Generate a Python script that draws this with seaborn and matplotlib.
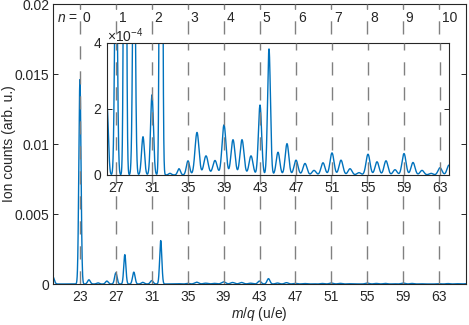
import numpy as np
import pandas as pd
import matplotlib
matplotlib.use('Agg')
import matplotlib.pyplot as plt
import matplotlib.transforms as mtransforms
import seaborn as sns

# peak list (m/q in u/e, ion counts in arb. u.)
peak_mz = [20, 23, 24, 25, 26, 27, 28, 29, 30, 31, 32, 33, 34, 35, 36, 37, 38, 39,
           40, 41, 42, 43, 44, 45, 46, 47, 48, 49, 50, 51, 52, 53, 54, 55, 56, 57,
           58, 59, 60, 61, 62, 63, 64, 65, 66]
peak_height = [5.0e-4, 1.46e-2, 3.0e-4, 0.8e-4, 2.1e-4, 8.0e-4, 2.1e-3, 8.5e-4, 1.16e-4,
               2.43e-4, 3.1e-3, 0.05e-4, 0.19e-4, 0.43e-4, 1.29e-4, 0.58e-4, 0.44e-4,
               1.52e-4, 1.07e-4, 1.07e-4, 0.58e-4, 2.12e-4, 3.82e-4, 0.69e-4, 0.95e-4,
               0.45e-4, 0.35e-4, 0.14e-4, 0.37e-4, 0.67e-4, 0.45e-4, 0.19e-4, 0.07e-4,
               0.63e-4, 0.40e-4, 0.43e-4, 0.16e-4, 0.65e-4, 0.38e-4, 0.14e-4, 0.05e-4,
               0.22e-4, 0.30e-4, 0.20e-4, 0.20e-4]
peak_width = [0.15, 0.12, 0.15, 0.15, 0.15, 0.14, 0.12, 0.14, 0.16, 0.16, 0.12, 0.16,
              0.16, 0.18, 0.22, 0.24, 0.24, 0.22, 0.22, 0.22, 0.22, 0.18, 0.16, 0.2,
              0.2, 0.22, 0.22, 0.22, 0.22, 0.22, 0.22, 0.22, 0.22, 0.22, 0.22, 0.22,
              0.22, 0.22, 0.22, 0.22, 0.22, 0.22, 0.22, 0.22, 0.22]

n_values = list(range(11))
n_mz = [23 + 4 * n for n in n_values]
xticks = [23, 27, 31, 35, 39, 43, 47, 51, 55, 59, 63]
inset_xticks = [27, 31, 35, 39, 43, 47, 51, 55, 59, 63]
yticks = [0, 0.005, 0.01, 0.015, 0.02]
ytick_labels = ['0', '0.005', '0.01', '0.015', '0.02']
inset_yticks = [0, 2e-4, 4e-4]
inset_ytick_labels = ['0', '2', '4']

# spectrum built from the peak list
mz = np.linspace(20, 66, 4601)
counts = np.zeros_like(mz)
for c, h, w in zip(peak_mz, peak_height, peak_width):
    counts += h * np.exp(-(mz - c) ** 2 / (2 * w ** 2))
df = pd.DataFrame({'mz': mz, 'counts': counts})

sns.set_style('ticks')
plt.rcParams['font.family'] = ['Liberation Sans', 'DejaVu Sans']
plt.rcParams['mathtext.fontset'] = 'custom'
plt.rcParams['mathtext.rm'] = 'Liberation Sans'
plt.rcParams['mathtext.it'] = 'Liberation Sans:italic'
plt.rcParams['font.size'] = 10

blue = '#0072BD'
axcol = '#262626'
dashcol = '#808080'
fs = 10

W, H = 469, 325
fig = plt.figure(figsize=(W / 100, H / 100), dpi=100)
ax = fig.add_axes([53 / W, 1 - 284 / H, 413 / W, 280 / H])
ins = fig.add_axes([107 / W, 1 - 175 / H, 342 / W, 132 / H])


def style_axes(a):
    for s in a.spines.values():
        s.set_visible(True)
        s.set_color(axcol)
        s.set_linewidth(0.8)
    a.tick_params(direction='in', top=True, right=True, length=3.5, width=0.7,
                  colors=axcol, labelcolor=axcol, labelsize=fs, pad=4)
    a.set_facecolor('white')


# main axes
sns.lineplot(data=df, x='mz', y='counts', ax=ax, color=blue, lw=1.0, zorder=2)
for x in n_mz:
    ax.axvline(x, color=dashcol, lw=1.0, dashes=(9.5, 8.5), zorder=3)
ax.set_xlim(20, 66)
ax.set_ylim(0, 0.02)
ax.set_xticks(xticks)
ax.set_yticks(yticks)
ax.set_yticklabels(ytick_labels)
style_axes(ax)
ax.tick_params(axis='y', pad=2.5)
ax.set_xlabel('$m/q$ (u/e)', fontsize=fs, color=axcol)
ax.set_ylabel('Ion counts (arb. u.)', fontsize=fs, color=axcol)
ax.xaxis.set_label_coords(0.5, -0.075)
ax.yaxis.label.set_va('center')
ax.yaxis.set_label_coords(-0.107, 0.5)

trans = mtransforms.blended_transform_factory(ax.transData, ax.transAxes)
for n, x in zip(n_values, n_mz):
    ax.text(x + 0.3, 0.949, str(n), transform=trans, ha='left', va='center',
            fontsize=fs, color=axcol)
ax.text(n_mz[0] - 0.2, 0.949, '$n$ =', transform=trans, ha='right', va='center',
        fontsize=fs, color=axcol)

# inset
sns.lineplot(data=df, x='mz', y='counts', ax=ins, color=blue, lw=1.0, zorder=2)
for x in n_mz:
    ins.axvline(x, color=dashcol, lw=1.0, dashes=(9.5, 8.5), zorder=3)
ins.set_xlim(26, 64)
ins.set_ylim(0, 4e-4)
ins.set_xticks(inset_xticks)
ins.set_yticks(inset_yticks)
ins.set_yticklabels(inset_ytick_labels)
style_axes(ins)
off = mtransforms.offset_copy(ins.transAxes, fig=fig, x=0, y=-2, units='dots')
ins.text(0.0, 1.0, r'$\times10^{-4}$', transform=off, ha='left',
         va='bottom', fontsize=fs, color=axcol)
ins.set_xlabel('')
ins.set_ylabel('')

fig.savefig('out.png', dpi=100)
